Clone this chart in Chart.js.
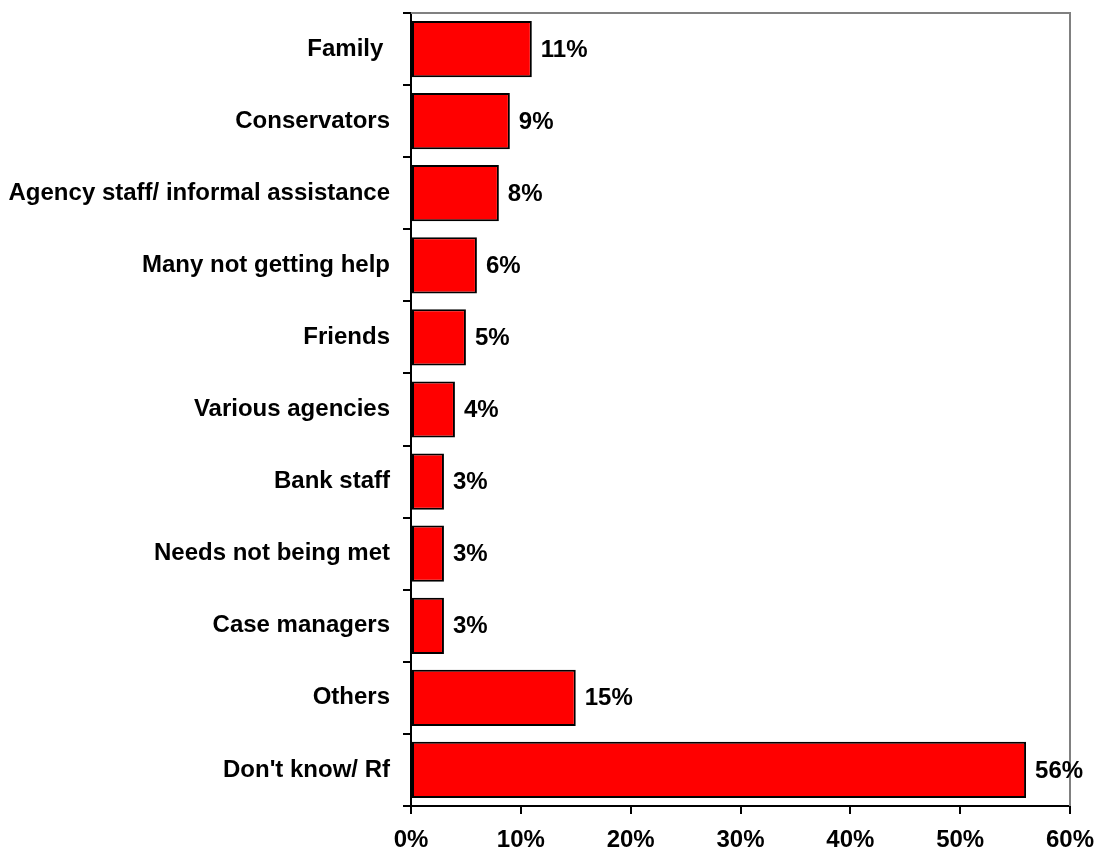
<!DOCTYPE html>
<html>
<head>
<meta charset="utf-8">
<script src="https://cdn.jsdelivr.net/npm/chart.js@4/dist/chart.umd.min.js"></script>
<style>
  html, body { margin: 0; padding: 0; background: #fff; }
  #wrap { width: 1097px; height: 854px; }
</style>
</head>
<body>
<div id="wrap"><canvas id="helpChart" width="1097" height="854"></canvas></div>
<script>
// Who is helping - share of responses
const categories = [
  "Family ",
  "Conservators",
  "Agency staff/ informal assistance",
  "Many not getting help",
  "Friends",
  "Various agencies",
  "Bank staff",
  "Needs not being met",
  "Case managers",
  "Others",
  "Don't know/ Rf"
];
const shares = [11, 9, 8, 6, 5, 4, 3, 3, 3, 15, 56];
const xTicks = [0, 10, 20, 30, 40, 50, 60];

const labelFont = { family: "'Liberation Sans', Arial, sans-serif", size: 24, weight: "bold" };

// gray frame on the top and right of the plot area
const frameLines = {
  id: "frameLines",
  beforeDatasetsDraw(chart) {
    const { ctx, chartArea } = chart;
    ctx.save();
    ctx.strokeStyle = "#808080";
    ctx.lineWidth = 2;
    ctx.beginPath();
    ctx.moveTo(chartArea.left, chartArea.top);
    ctx.lineTo(chartArea.right, chartArea.top);
    ctx.lineTo(chartArea.right, chartArea.bottom);
    ctx.stroke();
    ctx.restore();
  }
};

// percentage written at the end of each bar
const barValues = {
  id: "barValues",
  afterDatasetsDraw(chart) {
    const { ctx } = chart;
    const meta = chart.getDatasetMeta(0);
    ctx.save();
    ctx.fillStyle = "#000";
    ctx.font = "bold 24px 'Liberation Sans', Arial, sans-serif";
    ctx.textAlign = "left";
    ctx.textBaseline = "middle";
    meta.data.forEach((bar, i) => {
      ctx.fillText(shares[i] + "%", bar.x + 9, bar.y + 1);
    });
    ctx.restore();
  }
};

// keep the plot area where the layout padding puts it
function noEdgePadding(scale) {
  scale.paddingTop = 0;
  scale.paddingBottom = 0;
  scale.paddingLeft = 0;
  scale.paddingRight = 0;
}

new Chart(document.getElementById("helpChart"), {
  type: "bar",
  data: {
    labels: categories,
    datasets: [
      {
        data: shares,
        backgroundColor: "#ff0000",
        borderColor: "#000",
        borderWidth: 2,
        borderSkipped: false,
        barPercentage: 0.78,
        categoryPercentage: 1
      }
    ]
  },
  options: {
    indexAxis: "y",
    responsive: false,
    animation: false,
    events: [],
    layout: { padding: { top: 13, right: 27, left: 0, bottom: 0 } },
    plugins: {
      legend: { display: false },
      tooltip: { enabled: false }
    },
    scales: {
      x: {
        min: 0,
        max: 60,
        afterBuildTicks(scale) {
          scale.ticks = xTicks.map((v) => ({ value: v }));
        },
        afterFit(scale) {
          scale.height = 48;
          noEdgePadding(scale);
        },
        border: { color: "#000", width: 2 },
        grid: { drawOnChartArea: false, color: "#000", lineWidth: 2, tickLength: 8 },
        ticks: {
          color: "#000",
          font: labelFont,
          padding: 12,
          maxRotation: 0,
          callback: (v) => v + "%"
        }
      },
      y: {
        afterFit(scale) {
          scale.width = 411;
          noEdgePadding(scale);
        },
        border: { color: "#000", width: 2 },
        grid: { offset: true, drawOnChartArea: false, color: "#000", lineWidth: 2, tickLength: 8 },
        ticks: { color: "#000", font: labelFont, padding: 13 }
      }
    }
  },
  plugins: [frameLines, barValues]
});
</script>
</body>
</html>
